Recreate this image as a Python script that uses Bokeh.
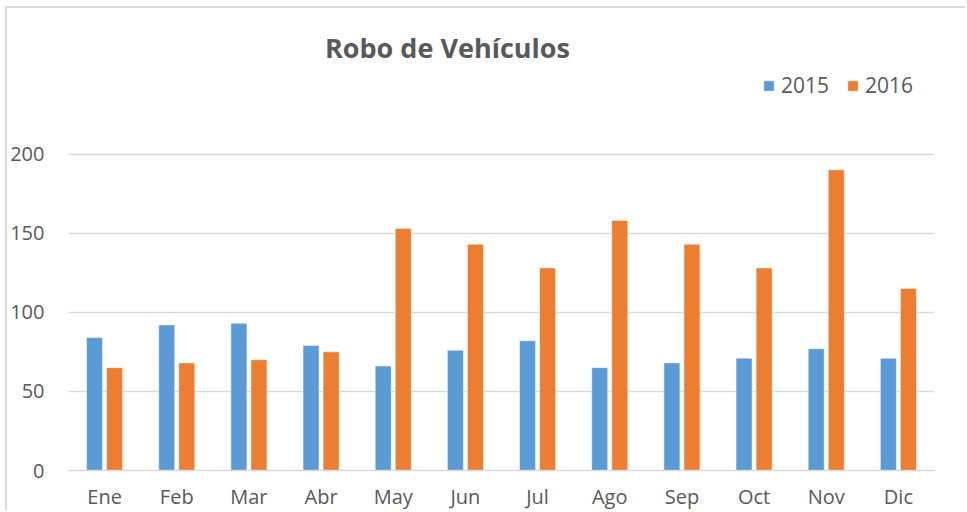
from bokeh.plotting import figure
from bokeh.models import ColumnDataSource, FactorRange, Range1d, Legend, LegendItem, Label, FixedTicker
from bokeh.transform import dodge
from bokeh.embed import file_html
from bokeh.resources import INLINE

months = ["Ene", "Feb", "Mar", "Abr", "May", "Jun", "Jul", "Ago", "Sep", "Oct", "Nov", "Dic"]
y2015 = [84, 92, 93, 79, 66, 76, 82, 65, 68, 71, 77, 71]
y2016 = [65, 68, 70, 75, 153, 143, 128, 158, 143, 128, 190, 115]
yticks = [0, 50, 100, 150, 200]
title_text = "Robo de Vehículos"

BLUE = "#5B9BD5"
ORANGE = "#ED7D31"
GRID = "#D9D9D9"
TXT = "#595959"
FONT = "Open Sans"

# layout (page pixels)
OX, OY = 7, 8            # canvas origin on page (after css margin+border)
W, H = 967 - OX, 512 - OY
FL, FR = 69, 934         # frame left / right on page
FT, FB = 20, 470         # frame top / bottom on page
Y200 = 153.5             # page y of the 200 gridline
YMAX = 200 * (FB - FT) / (FB - Y200)

def ydata(py):
    return (FB - py) / (FB - FT) * YMAX

src = ColumnDataSource(dict(month=months, y2015=y2015, y2016=y2016))

p = figure(width=W, height=H, output_backend="svg", toolbar_location=None,
           x_range=FactorRange(*months, range_padding=0), y_range=Range1d(0, YMAX),
           min_border_left=FL - OX - 4, min_border_right=OX + W - FR,
           min_border_top=FT - OY, min_border_bottom=10)
p.outline_line_color = None
p.background_fill_color = "white"
p.border_fill_color = "white"
p.styles = {"margin-left": "5px", "margin-top": "6px",
            "border-top": "2px solid #D9D9D9", "border-left": "2px solid #D9D9D9"}

r1 = p.vbar(x=dodge("month", -0.139, range=p.x_range), top="y2015", width=0.222,
            source=src, fill_color=BLUE, line_color="white", line_width=0.5)
r2 = p.vbar(x=dodge("month", 0.139, range=p.x_range), top="y2016", width=0.222,
            source=src, fill_color=ORANGE, line_color="white", line_width=0.5)

p.xgrid.grid_line_color = None
p.ygrid.grid_line_color = GRID
p.ygrid.grid_line_width = 1.5
p.ygrid.ticker = FixedTicker(ticks=yticks)
p.yaxis.ticker = FixedTicker(ticks=yticks)
p.yaxis.axis_line_color = None
p.yaxis.major_tick_line_color = None
p.yaxis.minor_tick_line_color = None
p.yaxis.major_label_standoff = 18
p.yaxis.major_label_text_font = FONT
p.yaxis.major_label_text_font_size = "20px"
p.yaxis.major_label_text_color = TXT

p.xaxis.axis_line_color = GRID
p.xaxis.axis_line_width = 1.5
p.xaxis.major_tick_line_color = None
p.xaxis.minor_tick_line_color = None
p.xaxis.major_label_standoff = 6
p.xaxis.major_label_text_font = FONT
p.xaxis.major_label_text_font_size = "20px"
p.xaxis.major_label_text_color = TXT

p.add_layout(Label(x=(447.5 - FL) / (FR - FL) * 12, y=ydata(46.7), text=title_text,
                   text_align="center", text_baseline="alphabetic",
                   text_font=FONT, text_font_size="27px", text_font_style="bold",
                   text_color=TXT))

legend = Legend(items=[LegendItem(label="2015", renderers=[r1]),
                       LegendItem(label="2016", renderers=[r2])],
                orientation="horizontal", location=(763 - FL, FB - 99),
                padding=0, margin=0, spacing=17, label_standoff=6,
                glyph_width=13, glyph_height=13,
                label_text_font=FONT, label_text_font_size="21px", label_text_color=TXT,
                background_fill_alpha=0, border_line_color=None)
p.add_layout(legend, "center")

open("out.html", "w").write(file_html(p, INLINE))
